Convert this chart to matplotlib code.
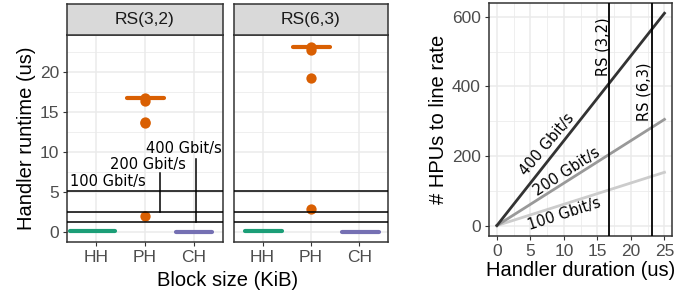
import matplotlib
matplotlib.use("Agg")
import matplotlib.pyplot as plt
from matplotlib.ticker import MultipleLocator, FixedLocator

# --- data -----------------------------------------------------------------
categories = ["HH", "PH", "CH"]
panels = ["RS(3,2)", "RS(6,3)"]

# collapsed boxplots: (median, left edge, right edge) per category
box_hh = [(0.2, 0.47, 1.38), (0.2, 0.63, 1.41)]
box_ph = [(16.7, 1.63, 2.39), (23.1, 1.63, 2.39)]
box_ch = [(0.05, 2.64, 3.37), (0.05, 2.64, 3.40)]
outliers_ph = [[16.7, 16.4, 13.8, 13.6, 2.0], [23.1, 22.7, 19.2, 2.9]]

# line-rate runtime per handler (us)
rate_labels = ["100 Gbit/s", "200 Gbit/s", "400 Gbit/s"]
rate_runtime = [5.12, 2.56, 1.28]

# right plot: HPUs needed vs handler duration
duration = [0, 25]
hpus_400 = [0, 610]
hpus_200 = [0, 305]
hpus_100 = [0, 153]
rs_durations = [16.7, 23.1]
rs_labels = ["RS (3,2)", "RS (6,3)"]

# --- style ----------------------------------------------------------------
W, H = 700, 297
green, orange, purple = "#1B9E77", "#D95F02", "#7570B3"
grid_col = "#EBEBEB"
border = "#333333"
tick_col = "#4D4D4D"
sans = ["Liberation Sans", "DejaVu Sans"]


def px_axes(fig, x0, y0, x1, y1):
    # pixel box (top-left origin) -> figure axes
    return fig.add_axes([x0 / W, (H - y1) / H, (x1 - x0) / W, (y1 - y0) / H])


def style_axes(ax):
    ax.set_facecolor("white")
    for s in ax.spines.values():
        s.set_color(border)
        s.set_linewidth(1.1)
    ax.grid(True, which="major", color=grid_col, lw=1.1, zorder=0)
    ax.grid(True, which="minor", color=grid_col, lw=0.55, zorder=0)
    ax.tick_params(which="major", length=3, color=border, labelcolor=tick_col,
                   labelsize=12.5, width=0.8, pad=2.5)
    ax.tick_params(which="minor", length=0)
    for lab in ax.get_xticklabels() + ax.get_yticklabels():
        lab.set_family(sans)
    ax.set_axisbelow(True)


fig = plt.figure(figsize=(7, 2.97), dpi=100)

panel_x = [(67, 223), (233.5, 388.5)]
for i, (x0, x1) in enumerate(panel_x):
    ax = px_axes(fig, x0, 35, x1, 242)
    ax.set_xlim(0.4, 3.6)
    ax.set_ylim(-1.2, 24.6)
    ax.yaxis.set_major_locator(FixedLocator([0, 5, 10, 15, 20]))
    ax.yaxis.set_minor_locator(FixedLocator([2.5, 7.5, 12.5, 17.5, 22.5]))
    ax.set_xticks([1, 2, 3])
    ax.set_xticklabels(categories)
    ax.xaxis.set_minor_locator(FixedLocator([]))
    style_axes(ax)
    if i == 1:
        ax.tick_params(axis="y", which="both", length=0, labelleft=False)

    for (m, a, b), c in zip([box_hh[i], box_ph[i], box_ch[i]], [green, orange, purple]):
        ax.plot([a, b], [m, m], color=c, lw=3, solid_capstyle="round", zorder=3)
    ax.scatter([2] * len(outliers_ph[i]), outliers_ph[i], s=55, color=orange,
               zorder=4, linewidths=0)

    for r in rate_runtime:
        ax.axhline(r, color="black", lw=1.1, zorder=5)

    if i == 0:
        ax.plot([2.31, 2.31], [rate_runtime[1], 7.4], color="black", lw=1.1, zorder=5)
        ax.plot([3.05, 3.05], [rate_runtime[2], 9.2], color="black", lw=1.1, zorder=5)
        ax.text(0.47, 5.45, rate_labels[0], fontsize=10.5, ha="left", va="bottom", zorder=6)
        ax.text(2.07, 7.5, rate_labels[1], fontsize=10.5, ha="center", va="bottom", zorder=6)
        ax.text(2.79, 9.5, rate_labels[2], fontsize=10.5, ha="center", va="bottom", zorder=6)
        ax.set_ylabel("Handler runtime (us)", fontsize=14.5, family=sans, labelpad=3)

    # strip
    st = px_axes(fig, x0, 4, x1, 35)
    st.set_facecolor("#D9D9D9")
    st.set_xticks([])
    st.set_yticks([])
    for s in st.spines.values():
        s.set_color(border)
        s.set_linewidth(1.1)
    st.text(0.5, 0.5, panels[i], transform=st.transAxes, ha="center", va="center",
            fontsize=12.5, color="#1A1A1A", family=sans)

fig.text(228 / W, 1 - 281 / H, "Block size (KiB)", ha="center", va="center",
         fontsize=14.5, family=sans)

# right plot
ax = px_axes(fig, 488.5, 3.5, 672.5, 236)
ax.set_xlim(-1.25, 26.2)
ax.set_ylim(-30, 638)
ax.xaxis.set_major_locator(MultipleLocator(5))
ax.xaxis.set_minor_locator(MultipleLocator(2.5))
ax.yaxis.set_major_locator(MultipleLocator(200))
ax.yaxis.set_minor_locator(MultipleLocator(100))
style_axes(ax)

ax.plot(duration, hpus_100, color="#CCCCCC", lw=2, zorder=3)
ax.plot(duration, hpus_200, color="#999999", lw=2, zorder=3)
ax.plot(duration, hpus_400, color="#333333", lw=2, zorder=3)
for d in rs_durations:
    ax.axvline(d, color="black", lw=1.3, zorder=4)

ax.text(7.5, 232, rate_labels[2], rotation=50, fontsize=10.5, ha="center", va="center")
ax.text(10.4, 155, rate_labels[1], rotation=33, fontsize=10.5, ha="center", va="center")
ax.text(10.0, 33, rate_labels[0], rotation=18, fontsize=10.5, ha="center", va="center")
ax.text(15.8, 515, rs_labels[0], rotation=90, fontsize=10.5, ha="center", va="center")
ax.text(22.0, 385, rs_labels[1], rotation=90, fontsize=10.5, ha="center", va="center")

ax.set_ylabel("# HPUs to line rate", fontsize=14.5, family=sans, labelpad=3)
ax.set_xlabel("Handler duration (us)", fontsize=14.5, family=sans, labelpad=2)

fig.savefig("out.png", dpi=100)
